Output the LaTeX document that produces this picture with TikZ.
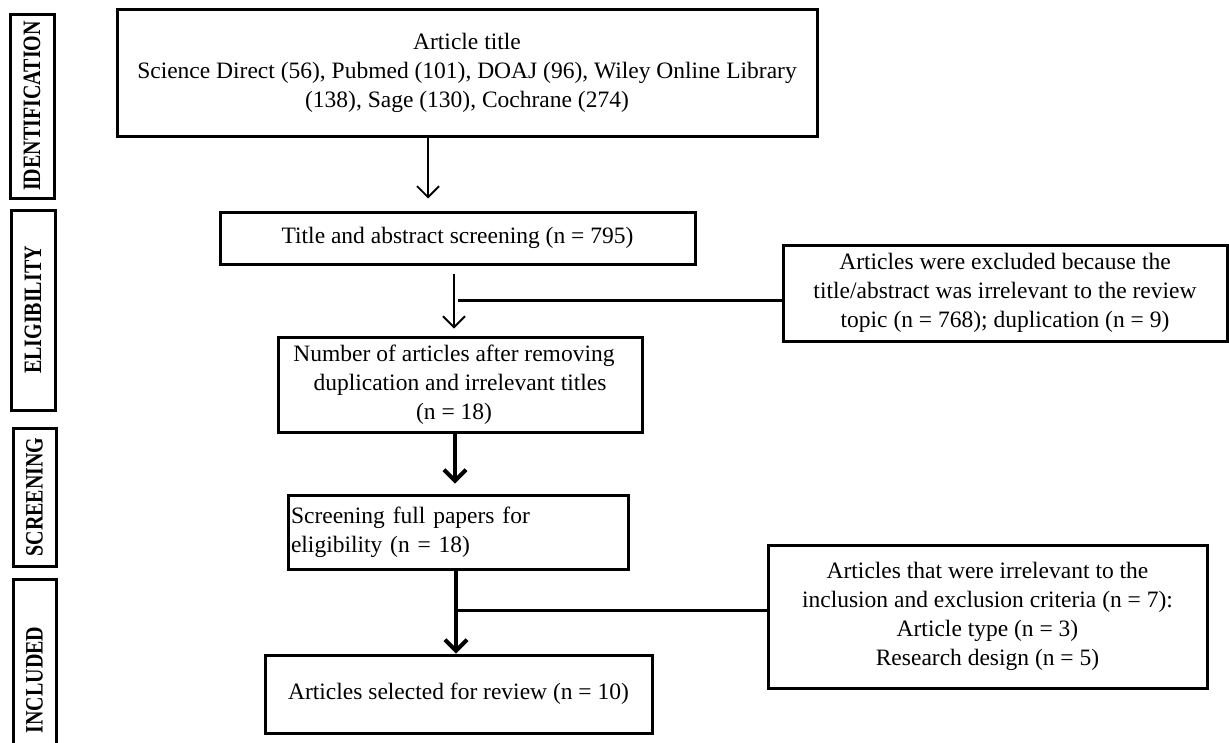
\documentclass[tikz,border=0pt]{standalone}
\usepackage{fontspec}
\usepackage{graphicx}
\setmainfont{Liberation Serif}
\usetikzlibrary{arrows.meta}
\begin{document}
\begin{tikzpicture}[x=1pt,y=-1pt]
\useasboundingbox[fill=white] (0,0) rectangle (1229,742);
\tikzset{
  box/.style={draw, line width=3pt, inner sep=0pt, align=center, font=\fontsize{23.5}{29}\selectfont},
  sidebox/.style={draw, line width=3pt, inner sep=0pt},
  sidetext/.style={rotate=90, font=\fontsize{25}{25}\selectfont\bfseries},
  thinarrow/.style={line width=1.8pt, -{Straight Barb[length=11pt,width=22pt,line width=1.8pt]}},
  thickarrow/.style={line width=4pt, -{Straight Barb[length=11pt,width=22pt,line width=4pt]}},
  branch/.style={line width=3pt}
}
% side stage boxes
\node[sidebox, minimum width=44pt, minimum height=184pt] (s1) at (32,106) {};
\node[sidetext] (t1) at (s1.center) {\scalebox{0.8}[1]{IDENTIFICATION}};
\node[sidebox, minimum width=44pt, minimum height=200pt] (s2) at (33,310) {};
\node[sidetext] (t2) at (s2.center) {\scalebox{0.8}[1]{ELIGIBILITY}};
\node[sidebox, minimum width=43pt, minimum height=138pt] (s3) at (34.5,497) {};
\node[sidetext] (t3) at (s3.center) {\scalebox{0.8}[1]{SCREENING}};
\node[sidebox, minimum width=43pt, minimum height=202pt] (s4) at (34.5,680) {};
\node[sidetext] (t4) at (s4.center) {\scalebox{0.8}[1]{INCLUDED}};

% main flow boxes
\node[box, minimum width=700pt, minimum height=127pt] (b1) at (467,72.5)
  {Article title\\Science Direct (56), Pubmed (101), DOAJ (96), Wiley Online Library\\(138), Sage (130), Cochrane (274)};
\node[box, minimum width=475pt, minimum height=52pt] (b2) at (457.5,238)
  {Title and abstract screening (n = 795)};
\node[box, minimum width=364pt, minimum height=95pt] (b3) at (460,384.5)
  {Number of articles after removing\hspace*{12pt}\\duplication and irrelevant titles\hspace*{12pt}\\(n = 18)\hspace*{12pt}};
\node[box, align=left, text width=334pt, inner xsep=3pt, minimum height=74pt] (b4) at (458,532)
  {Screening full papers for\\eligibility (n = 18)};
\node[box, minimum width=387pt, minimum height=78pt] (b5) at (458.5,694)
  {Articles selected for review (n = 10)};
\node[box, minimum width=444pt, minimum height=96pt] (e1) at (1005,293)
  {Articles were excluded because the\\title/abstract was irrelevant to the review\\topic (n = 768); duplication (n = 9)};
\node[box, minimum width=439pt, minimum height=143pt] (e2) at (987.5,616.5)
  {Articles that were irrelevant to the\\inclusion and exclusion criteria (n = 7):\\Article type (n = 3)\\Research design (n = 5)};

% connectors
\coordinate (a1x) at (428,0);
\coordinate (a2x) at (454,0);
\coordinate (a3x) at (455,0);
\coordinate (a4x) at (456,0);
\coordinate (br1) at (458,300);
\coordinate (br2) at (456,610);
\draw[thinarrow] (b1.south -| a1x) -- ([yshift=12pt]b2.north -| a1x);
\draw[thinarrow] ([yshift=-8pt]b2.south -| a2x) -- ([yshift=7pt]b3.north -| a2x);
\draw[branch] (br1) -- (br1 -| e1.west);
\draw[thickarrow] (b3.south -| a3x) -- ([yshift=10pt]b4.north -| a3x);
\draw[thickarrow] (b4.south -| a4x) -- (b5.north -| a4x);
\draw[branch] (br2) -- (br2 -| e2.west);
\end{tikzpicture}
\end{document}
